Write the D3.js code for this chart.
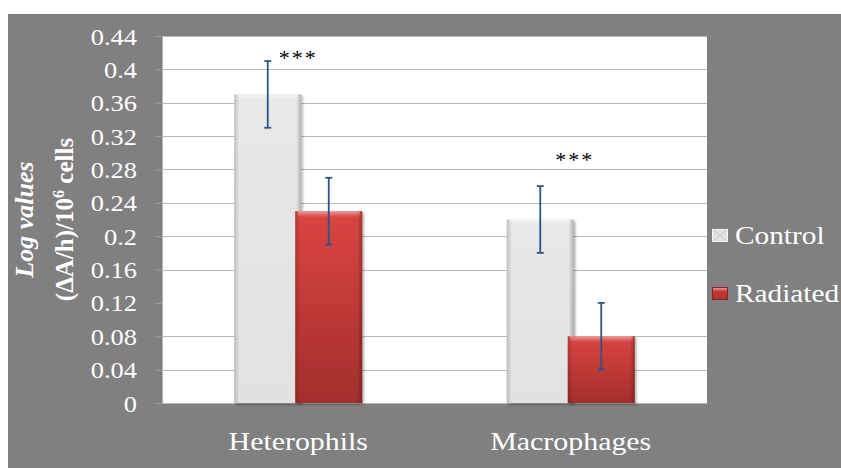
<!DOCTYPE html>
<html>
<head>
<meta charset="utf-8">
<script src="https://cdn.jsdelivr.net/npm/d3@7/dist/d3.min.js"></script>
<style>
  html, body { margin: 0; padding: 0; background: #ffffff; }
  svg { display: block; }
  text { font-family: "Liberation Serif", "Times New Roman", serif; }
</style>
</head>
<body>
<svg id="chart" width="841" height="468"></svg>
<script>
// Cell types measured and treatment groups
const categories = ["Heterophils", "Macrophages"];
const seriesNames = ["Control", "Radiated"];

// Mean log values, (ΔA/h)/10^6 cells
const controlValues = [0.37, 0.22];
const radiatedValues = [0.23, 0.08];

// Error bar half-lengths
const controlErrors = [0.04, 0.04];
const radiatedErrors = [0.04, 0.04];

// Significance markers and the level they sit at
const significanceText = ["***", "***"];
const significanceLevel = [0.405, 0.283];

// Y axis ticks
const yTickValues = [0, 0.04, 0.08, 0.12, 0.16, 0.2, 0.24, 0.28, 0.32, 0.36, 0.4, 0.44];
const yTickLabels = ["0", "0.04", "0.08", "0.12", "0.16", "0.2", "0.24", "0.28", "0.32", "0.36", "0.4", "0.44"];
// Horizontal gridlines drawn across the plot
const gridValues = [0.04, 0.08, 0.16, 0.2, 0.24, 0.28, 0.32, 0.36, 0.4, 0.44];

const svg = d3.select("#chart");
const W = 841, H = 468;
const plot = { left: 162, right: 707, top: 36, bottom: 403 };

// stretch text horizontally about its anchor
function stretch(sel, k) {
  sel.attr("transform", function () {
    const x = +this.getAttribute("x") || 0;
    return `translate(${x * (1 - k)},0) scale(${k},1)`;
  });
}

const defs = svg.append("defs");
const gGray = defs.append("linearGradient").attr("id", "ctrlFill").attr("x1", 0).attr("x2", 0).attr("y1", 0).attr("y2", 1);
gGray.append("stop").attr("offset", "0%").attr("stop-color", "#e8e8e8");
gGray.append("stop").attr("offset", "100%").attr("stop-color", "#e2e2e2");
const gRed = defs.append("linearGradient").attr("id", "radFill").attr("x1", 0).attr("x2", 0).attr("y1", 0).attr("y2", 1);
gRed.append("stop").attr("offset", "0%").attr("stop-color", "#da4541");
gRed.append("stop").attr("offset", "100%").attr("stop-color", "#a32e2c");
const gSideL = defs.append("linearGradient").attr("id", "sideShade").attr("x1", 0).attr("x2", 1).attr("y1", 0).attr("y2", 0);
gSideL.append("stop").attr("offset", "0%").attr("stop-color", "#000").attr("stop-opacity", 0.18);
gSideL.append("stop").attr("offset", "100%").attr("stop-color", "#000").attr("stop-opacity", 0);
const gSideR = defs.append("linearGradient").attr("id", "sideShadeR").attr("x1", 1).attr("x2", 0).attr("y1", 0).attr("y2", 0);
gSideR.append("stop").attr("offset", "0%").attr("stop-color", "#000").attr("stop-opacity", 0.25);
gSideR.append("stop").attr("offset", "100%").attr("stop-color", "#000").attr("stop-opacity", 0);
const gTop = defs.append("linearGradient").attr("id", "topLight").attr("x1", 0).attr("x2", 0).attr("y1", 0).attr("y2", 1);
gTop.append("stop").attr("offset", "0%").attr("stop-color", "#fff").attr("stop-opacity", 0.45);
gTop.append("stop").attr("offset", "100%").attr("stop-color", "#fff").attr("stop-opacity", 0);
const shadow = defs.append("filter").attr("id", "barShadow").attr("x", "-20%").attr("y", "-20%").attr("width", "140%").attr("height", "140%");
shadow.append("feDropShadow").attr("dx", 1.5).attr("dy", 1.5).attr("stdDeviation", 1.2)
  .attr("flood-color", "#000").attr("flood-opacity", 0.35);

// background panels
svg.append("rect").attr("width", W).attr("height", H).attr("fill", "#ffffff");
svg.append("rect").attr("x", 8).attr("y", 14).attr("width", W - 8).attr("height", H - 14).attr("fill", "#808080");
svg.append("rect").attr("x", plot.left).attr("y", plot.top)
  .attr("width", plot.right - plot.left).attr("height", plot.bottom - plot.top).attr("fill", "#ffffff");

// scales
const y = d3.scaleLinear().domain([0, 0.44]).range([plot.bottom, plot.top]);
const x0 = d3.scaleBand().domain(categories).range([plot.left, plot.right]).padding(0);
const xs = d3.scalePoint().domain(seriesNames).range([-30.5, 30.5]);
const barWidth = 67;

// gridlines
svg.append("g").selectAll("line").data(gridValues).join("line")
  .attr("x1", plot.left).attr("x2", plot.right)
  .attr("y1", d => Math.round(y(d)) + 0.5).attr("y2", d => Math.round(y(d)) + 0.5)
  .attr("stroke", "#b8b8b8").attr("stroke-width", 1);

// y axis
const yAxis = svg.append("g").attr("transform", `translate(${plot.left},0)`)
  .call(d3.axisLeft(y).tickValues(yTickValues).tickFormat((d, i) => yTickLabels[i]).tickSizeInner(7).tickSizeOuter(0));
yAxis.select(".domain").attr("stroke", "#b5b5b5");
yAxis.selectAll(".tick line").attr("stroke", "#9c9c9c");
yAxis.selectAll(".tick text")
  .attr("x", -25).attr("dy", "0.35em")
  .attr("fill", "#ffffff").attr("font-size", 23).attr("font-family", "Liberation Serif")
  .call(stretch, 1.15);

// x axis
const xAxis = svg.append("g").attr("transform", `translate(0,${plot.bottom})`)
  .call(d3.axisBottom(x0).tickSize(0));
xAxis.select(".domain").attr("stroke", "#b5b5b5");
xAxis.selectAll(".tick text")
  .attr("y", 47).attr("dy", 0)
  .attr("fill", "#ffffff").attr("font-size", 26).attr("font-family", "Liberation Serif")
  .call(stretch, 1.15);

// bar records
const bars = [];
categories.forEach((c, i) => {
  bars.push({ cat: c, series: "Control", value: controlValues[i], err: controlErrors[i] });
  bars.push({ cat: c, series: "Radiated", value: radiatedValues[i], err: radiatedErrors[i] });
});
const barX = d => x0(d.cat) + x0.bandwidth() / 2 + xs(d.series) - barWidth / 2;

const barG = svg.append("g").selectAll("g").data(bars).join("g");
barG.append("rect")
  .attr("x", barX).attr("y", d => y(d.value))
  .attr("width", barWidth).attr("height", d => y(0) - y(d.value))
  .attr("fill", d => d.series === "Control" ? "url(#ctrlFill)" : "url(#radFill)")
  .attr("filter", "url(#barShadow)");
// bevel: top highlight and shaded sides
barG.append("rect")
  .attr("x", d => barX(d) + 2).attr("y", d => y(d.value))
  .attr("width", barWidth - 4).attr("height", 6)
  .attr("fill", "url(#topLight)");
barG.append("rect")
  .attr("x", barX).attr("y", d => y(d.value))
  .attr("width", 5).attr("height", d => y(0) - y(d.value))
  .attr("fill", "url(#sideShade)");
barG.append("rect")
  .attr("x", d => barX(d) + barWidth - 5).attr("y", d => y(d.value))
  .attr("width", 5).attr("height", d => y(0) - y(d.value))
  .attr("fill", "url(#sideShadeR)");

// error bars
const errColor = "#2d5488";
const errG = svg.append("g").selectAll("g").data(bars).join("g")
  .attr("stroke", errColor).attr("stroke-width", 1.8);
const cx = d => x0(d.cat) + x0.bandwidth() / 2 + xs(d.series);
errG.append("line")
  .attr("x1", cx).attr("x2", cx)
  .attr("y1", d => y(d.value + d.err)).attr("y2", d => y(d.value - d.err));
errG.append("line")
  .attr("x1", d => cx(d) - 3.5).attr("x2", d => cx(d) + 3.5)
  .attr("y1", d => y(d.value + d.err)).attr("y2", d => y(d.value + d.err));
errG.append("line")
  .attr("x1", d => cx(d) - 3.5).attr("x2", d => cx(d) + 3.5)
  .attr("y1", d => y(d.value - d.err)).attr("y2", d => y(d.value - d.err));

// significance markers
svg.append("g").selectAll("text").data(categories).join("text")
  .attr("x", (c, i) => x0(c) + x0.bandwidth() / 2 + (i === 0 ? 0 : 4))
  .attr("y", (c, i) => y(significanceLevel[i]))
  .attr("text-anchor", "middle")
  .attr("font-size", 22).attr("fill", "#000000")
  .attr("letter-spacing", 2)
  .text((c, i) => significanceText[i]);

// legend
const legend = svg.append("g");
const legendRows = [
  { name: seriesNames[0], y: 244, box: "ctrl" },
  { name: seriesNames[1], y: 302, box: "rad" }
];
legendRows.forEach(r => {
  const by = r.y - 15;
  if (r.box === "ctrl") {
    legend.append("rect").attr("x", 712).attr("y", by).attr("width", 16).attr("height", 13).attr("fill", "#e4e4e4");
    legend.append("path").attr("d", `M712,${by}L728,${by + 13}M728,${by}L712,${by + 13}`)
      .attr("stroke", "#c4c4c4").attr("stroke-width", 1);
    legend.append("rect").attr("x", 712.5).attr("y", by + 0.5).attr("width", 15).attr("height", 12)
      .attr("fill", "none").attr("stroke", "#f4f4f4").attr("stroke-width", 1);
  } else {
    legend.append("rect").attr("x", 712).attr("y", by).attr("width", 16).attr("height", 13).attr("fill", "url(#radFill)");
    legend.append("rect").attr("x", 713).attr("y", by + 1).attr("width", 14).attr("height", 3).attr("fill", "url(#topLight)");
    legend.append("rect").attr("x", 712.5).attr("y", by + 0.5).attr("width", 15).attr("height", 12)
      .attr("fill", "none").attr("stroke", "#8c2523").attr("stroke-width", 1);
  }
  legend.append("text").attr("x", 735).attr("y", r.y)
    .attr("fill", "#ffffff").attr("font-size", 25.5)
    .text(r.name)
    .call(stretch, 1.15);
});

// y axis title, two lines
const yMid = (plot.top + plot.bottom) / 2;
svg.append("text")
  .attr("transform", `translate(33,${yMid}) rotate(-90)`)
  .attr("text-anchor", "middle")
  .attr("fill", "#ffffff").attr("font-size", 26)
  .attr("font-weight", "bold").attr("font-style", "italic")
  .text("Log values");
const t2 = svg.append("text")
  .attr("transform", `translate(73,${yMid}) rotate(-90)`)
  .attr("text-anchor", "middle")
  .attr("fill", "#ffffff").attr("font-size", 25)
  .attr("font-weight", "bold");
t2.append("tspan").text("(ΔA/h)/10");
t2.append("tspan").attr("dy", -9).attr("font-size", 16).text("6");
t2.append("tspan").attr("dy", 9).text(" cells");
</script>
</body>
</html>
